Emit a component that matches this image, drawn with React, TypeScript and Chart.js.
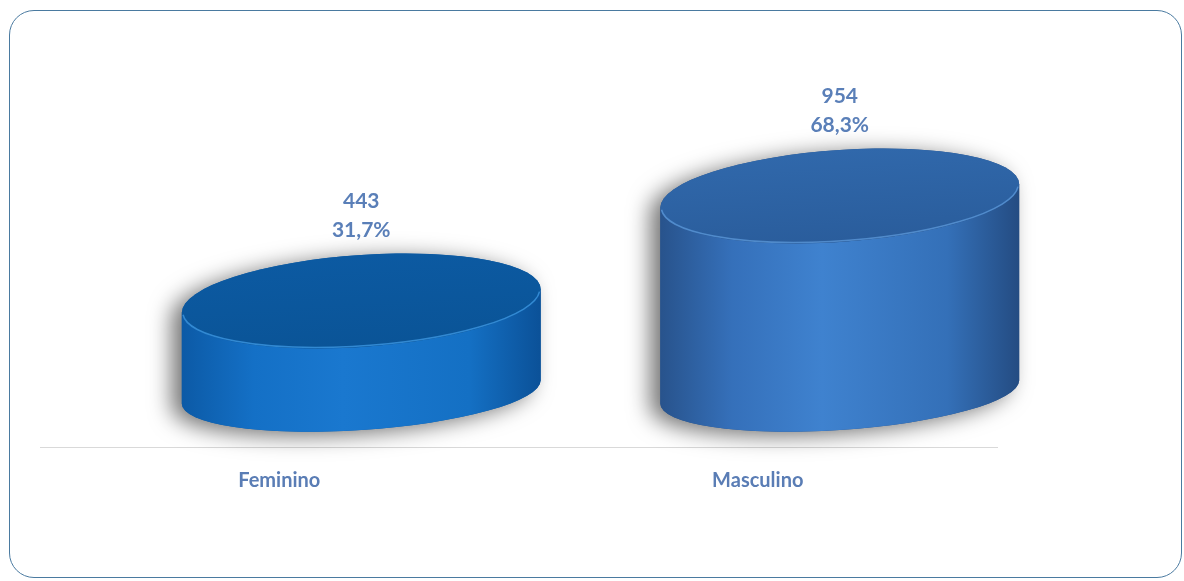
import React, { useEffect, useRef } from "react";
import { Chart, registerables } from "chart.js";

Chart.register(...registerables);

const categories = ["Feminino", "Masculino"];
const counts = [443, 954];
const percents = ["31,7%", "68,3%"];
const sideColors = [
  ["#0c5aa6", "#1470c6", "#1a78cf", "#1470c4", "#0b5198"],
  ["#28538c", "#3570ba", "#3f82cf", "#3470b8", "#244c82"],
];
const topColors = [
  ["#0c5aa2", "#0a5497"],
  ["#3068ab", "#2a5d9c"],
];
const rimColors = ["rgba(60,150,225,0.8)", "rgba(90,150,215,0.8)"];

const DX = 82;
const DY = 55;

const cylinderPlugin = {
  id: "cylinders",
  afterDatasetsDraw(chart: any) {
    const ctx: CanvasRenderingContext2D = chart.ctx;
    const meta = chart.getDatasetMeta(0);
    meta.data.forEach((bar: any, i: number) => {
      const cx = bar.x + DX;
      const topY = bar.y - DY;
      const botY = bar.base - DY;
      const rx = bar.width / 2;
      const ryTop = 46;
      const ryBot = 38;
      const s = -0.065;

      ctx.save();
      ctx.translate(cx, 0);
      ctx.transform(1, s, 0, 1, 0, 0);

      const silhouette = () => {
        ctx.beginPath();
        ctx.moveTo(-rx, topY);
        ctx.lineTo(-rx, botY);
        ctx.ellipse(0, botY, rx, ryBot, 0, Math.PI, 0, true);
        ctx.lineTo(rx, topY);
        ctx.ellipse(0, topY, rx, ryTop, 0, 0, Math.PI, true);
        ctx.closePath();
      };

      // shadow
      ctx.save();
      ctx.shadowColor = "rgba(0,0,0,0.55)";
      ctx.shadowBlur = 22;
      ctx.shadowOffsetX = -10;
      ctx.shadowOffsetY = 4;
      silhouette();
      ctx.fillStyle = sideColors[i][0];
      ctx.fill();
      ctx.restore();

      // side
      const g = ctx.createLinearGradient(-rx, 0, rx, 0);
      const sc = sideColors[i];
      g.addColorStop(0, sc[0]);
      g.addColorStop(0.2, sc[1]);
      g.addColorStop(0.45, sc[2]);
      g.addColorStop(0.8, sc[3]);
      g.addColorStop(1, sc[4]);
      ctx.beginPath();
      ctx.moveTo(-rx, topY);
      ctx.lineTo(-rx, botY);
      ctx.ellipse(0, botY, rx, ryBot, 0, Math.PI, 0, true);
      ctx.lineTo(rx, topY);
      ctx.ellipse(0, topY, rx, ryTop, 0, 0, Math.PI, false);
      ctx.closePath();
      ctx.fillStyle = g;
      ctx.fill();

      // top face
      const tg = ctx.createLinearGradient(0, topY - ryTop, 0, topY + ryTop);
      tg.addColorStop(0, topColors[i][0]);
      tg.addColorStop(1, topColors[i][1]);
      ctx.beginPath();
      ctx.ellipse(0, topY, rx, ryTop, 0, 0, Math.PI * 2);
      ctx.fillStyle = tg;
      ctx.fill();

      // rim highlight
      ctx.beginPath();
      ctx.ellipse(0, topY, rx - 1, ryTop - 1, 0, 0.05, Math.PI - 0.05, false);
      ctx.strokeStyle = rimColors[i];
      ctx.lineWidth = 1.5;
      ctx.stroke();
      ctx.restore();

      // labels
      ctx.save();
      ctx.fillStyle = "#5a7fb8";
      ctx.font = "bold 21px Lato, 'Open Sans', sans-serif";
      ctx.textAlign = "center";
      ctx.textBaseline = "middle";
      ctx.fillText(String(counts[i]), cx, topY - 100);
      ctx.fillText(percents[i], cx, topY - 71);
      ctx.restore();
    });
  },
};

export default function App() {
  const ref = useRef<HTMLCanvasElement | null>(null);
  useEffect(() => {
    if (!ref.current) return;
    const chart = new Chart(ref.current, {
      type: "bar",
      data: {
        labels: categories,
        datasets: [
          {
            data: counts,
            backgroundColor: "rgba(0,0,0,0)",
            borderWidth: 0,
            categoryPercentage: 0.75,
            barPercentage: 1,
          },
        ],
      },
      options: {
        animation: false,
        responsive: false,
        maintainAspectRatio: false,
        layout: { padding: { left: 40, right: 187, top: 36, bottom: 0 } },
        plugins: {
          legend: { display: false },
          tooltip: { enabled: false },
        },
        scales: {
          y: { display: false, min: 0, max: 2000 },
          x: {
            grid: { display: true, drawOnChartArea: false, drawTicks: false },
            border: { display: true, color: "#d9d9d9", width: 1 },
            ticks: {
              padding: 22,
              color: "#5a7db5",
              font: { family: "Lato, 'Open Sans', sans-serif", size: 20, weight: "bold" },
            },
            afterFit: (scale: any) => {
              scale.height = 134;
            },
          },
        },
      },
      plugins: [cylinderPlugin],
    });
    return () => chart.destroy();
  }, []);

  return (
    <div style={{ position: "fixed", left: 0, top: 0, width: 1184, height: 581, background: "#fff" }}>
      <canvas ref={ref} width={1184} height={581} style={{ position: "absolute", left: 0, top: 0 }} />
      <div
        style={{
          position: "absolute",
          left: 9,
          top: 10,
          width: 1171,
          height: 566,
          border: "1.5px solid #4a7aa0",
          borderRadius: 25,
          pointerEvents: "none",
        }}
      />
    </div>
  );
}
